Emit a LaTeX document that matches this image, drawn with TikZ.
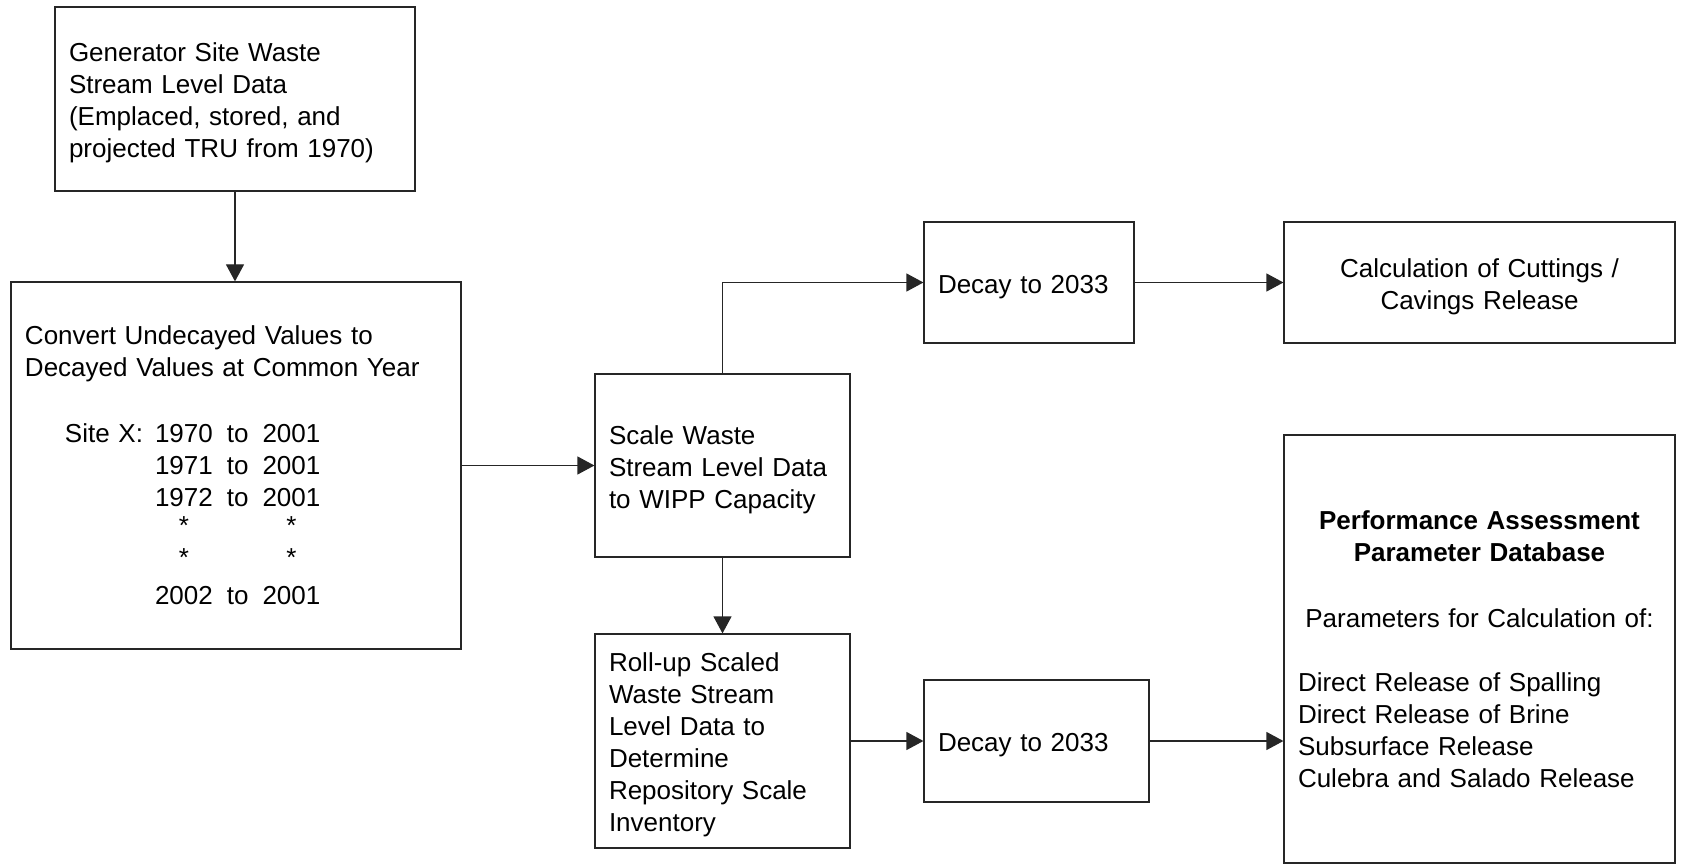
\documentclass[tikz,border=0pt]{standalone}
\usepackage{fontspec}
\setmainfont{Liberation Sans}
\usetikzlibrary{arrows.meta}

\begin{document}
\begin{tikzpicture}[x=0.5pt,y=-0.5pt,
    box/.style={draw=black!85,line width=0.6pt,inner xsep=7pt,align=left,
      font=\fontsize{13}{16}\selectfont},
    txt/.style={box,execute at begin node={\rule{0pt}{13.5pt}}},
    arr/.style={draw=black!85,line width=0.6pt,-{Triangle[length=8.5pt,width=9pt]}}]
  \useasboundingbox (0,0) rectangle (1681,866);

  \node[txt,text width=166pt,minimum height=92pt] (gen) at (235,99)
    {Generator Site Waste\\ Stream Level Data\\ (Emplaced, stored, and\\ projected TRU from 1970)};
  \node[txt,text width=211pt,minimum height=183.5pt] (conv) at (236,465.5)
    {Convert Undecayed Values to\\ Decayed Values at Common Year\\[18pt]
     \hspace*{20pt}\begin{tabular}{@{}l@{\hspace{6pt}}c@{\hspace{7pt}}c@{\hspace{7pt}}c@{}}
       Site X: & 1970 & to & 2001\\
               & 1971 & to & 2001\\
               & 1972 & to & 2001\\[-2pt]
               & *    &    & *\\
               & *    &    & *\\[3pt]
               & 2002 & to & 2001
     \end{tabular}};
  \node[txt,text width=113.5pt,minimum height=91.5pt] (scale) at (722.5,465.5)
    {Scale Waste\\ Stream Level Data\\ to WIPP Capacity};
  \node[txt,text width=91pt,minimum height=60.5pt] (dec1) at (1029,282.5) {Decay to 2033};
  \node[txt,text width=181.5pt,minimum height=60.5pt,align=center] (calc) at (1479.5,282.5)
    {Calculation of Cuttings /\\ Cavings Release};
  \node[txt,text width=113.5pt,minimum height=107pt] (roll) at (722.5,741)
    {Roll-up Scaled\\ Waste Stream\\ Level Data to\\ Determine\\ Repository Scale\\ Inventory};
  \node[txt,text width=98.5pt,minimum height=61pt] (dec2) at (1036.5,741) {Decay to 2033};
  \node[box,text width=181.5pt,minimum height=214pt] (pa) at (1479.5,649)
    {{\centering\bfseries Performance Assessment\\ Parameter Database\\[17pt]
      \mdseries Parameters for Calculation of:\par}\vspace{16pt}
     Direct Release of Spalling\\ Direct Release of Brine\\ Subsurface Release\\
     Culebra and Salado Release};

  \draw[arr] (gen.south) -- (gen.south |- conv.north);
  \draw[arr] (conv) -- (scale);
  \draw[arr] (scale.north) |- (dec1.west);
  \draw[arr] (dec1) -- (calc);
  \draw[arr] (scale) -- (roll);
  \draw[arr] (roll) -- (dec2);
  \draw[arr] (dec2.east) -- (dec2.east -| pa.west);
\end{tikzpicture}
\end{document}
